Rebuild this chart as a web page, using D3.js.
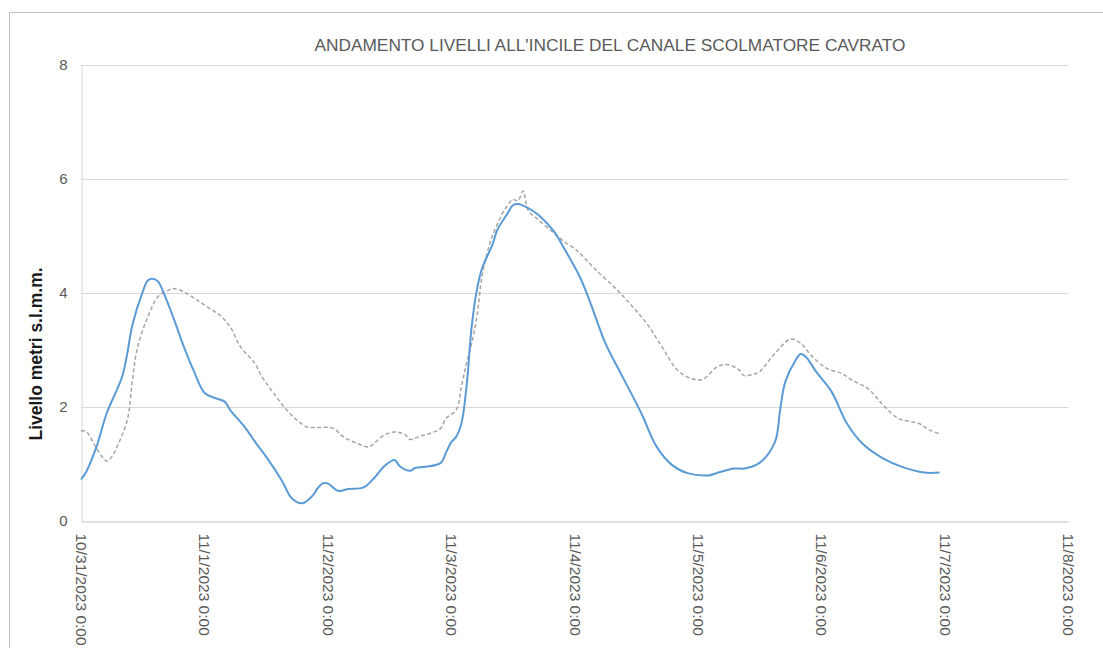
<!DOCTYPE html>
<html>
  <head>
    <meta charset="utf-8">
    <title>Andamento livelli Cavrato</title>
    <script src="https://d3js.org/d3.v7.min.js"></script>
    <style>
      body { margin: 0; background: #fff; }
      #chart { width: 1103px; height: 648px; }
      .tick text { font-family: "Liberation Sans", Arial, sans-serif; fill: #595959; }
    </style>
  </head>
  <body>
    <div id="chart">
      <script>

        const chartTitle = "ANDAMENTO LIVELLI ALL'INCILE DEL CANALE SCOLMATORE CAVRATO";
        const yTitle = "Livello metri s.l.m.m.";
        const startTime = "2023-10-31T00:00:00";
        const endTime = "2023-11-08T00:00:00";
        const yTicks = [0, 2, 4, 6, 8];

        // hours after 10/31/2023 0:00
        const blueHours = [0, 1, 3, 5, 8, 9, 10, 12, 13, 14, 15, 16, 18, 20, 22, 24, 26, 28, 29, 32,
          34, 36, 39, 41, 43, 45, 46, 47, 48, 50, 52, 55, 57, 59, 61, 62, 64, 65, 67, 70,
          71, 72, 73, 74, 75, 76, 77, 78, 80, 81, 83, 84, 85, 87, 89, 92, 94, 97, 99, 102,
          105, 109, 112, 115, 118, 122, 124, 127, 129, 132, 135, 136, 137, 139, 140, 141, 143, 146, 149, 152,
          156, 160, 164, 167];
        const blueLevels = [0.73, 0.86, 1.30, 1.89, 2.53, 2.94, 3.44, 4.02, 4.22, 4.25, 4.20, 4.02, 3.56, 3.06, 2.62, 2.25, 2.16, 2.09, 1.95, 1.63,
          1.37, 1.13, 0.72, 0.40, 0.31, 0.44, 0.57, 0.66, 0.66, 0.53, 0.56, 0.59, 0.75, 0.96, 1.07, 0.96, 0.88, 0.93, 0.95, 1.02,
          1.20, 1.38, 1.48, 1.71, 2.36, 3.41, 4.05, 4.43, 4.84, 5.11, 5.40, 5.54, 5.56, 5.49, 5.37, 5.08, 4.78, 4.29, 3.85, 3.12,
          2.59, 1.89, 1.30, 0.98, 0.84, 0.80, 0.85, 0.92, 0.92, 1.02, 1.39, 1.95, 2.44, 2.82, 2.93, 2.88, 2.62, 2.27, 1.71, 1.36,
          1.10, 0.94, 0.85, 0.85];

        const greyHours = [0, 1, 3, 5, 6, 7, 9, 10, 11, 13, 15, 17, 18, 20, 22, 24, 27, 29, 31, 33,
          34, 35, 38, 40, 42, 44, 46, 49, 51, 54, 56, 57, 59, 61, 63, 64, 66, 68, 70, 71,
          73, 74, 75, 76, 77, 78, 79, 80, 82, 83, 84, 85, 86, 87, 89, 92, 94, 96, 97, 100,
          104, 107, 110, 113, 116, 119, 121, 124, 126, 128, 129, 131, 132, 135, 138, 140, 142, 145, 148, 150,
          153, 156, 159, 163, 165, 167];
        const greyLevels = [1.58, 1.57, 1.28, 1.05, 1.13, 1.30, 1.77, 2.47, 3.05, 3.58, 3.94, 4.05, 4.08, 4.02, 3.91, 3.79, 3.61, 3.41, 3.06, 2.85,
          2.74, 2.56, 2.18, 1.95, 1.77, 1.65, 1.64, 1.63, 1.48, 1.35, 1.30, 1.36, 1.51, 1.56, 1.52, 1.43, 1.49, 1.54, 1.63, 1.80,
          1.95, 2.36, 2.77, 3.12, 3.58, 4.29, 4.70, 4.99, 5.40, 5.54, 5.64, 5.62, 5.79, 5.45, 5.28, 5.05, 4.90, 4.78, 4.70, 4.42,
          4.08, 3.79, 3.47, 3.06, 2.65, 2.49, 2.49, 2.72, 2.74, 2.65, 2.55, 2.58, 2.62, 2.94, 3.19, 3.12, 2.91, 2.68, 2.59, 2.47,
          2.33, 2.04, 1.80, 1.71, 1.60, 1.53];

        const width = 1103;
        const height = 648;
        const margin = {top: 65, right: 35, bottom: 127, left: 81};

        const svg = d3.select("#chart").append("svg")
            .attr("width", width)
            .attr("height", height);

        // outer chart frame
        svg.append("rect")
            .attr("x", 9.5).attr("y", 12.5)
            .attr("width", width + 20).attr("height", height + 20)
            .attr("fill", "none")
            .attr("stroke", "#bfbfbf");

        const t0 = new Date(startTime);
        const toDate = h => new Date(t0.getTime() + h * 3600 * 1000);
        const blueData = blueHours.map((h, i) => ({t: toDate(h), v: blueLevels[i]}));
        const greyData = greyHours.map((h, i) => ({t: toDate(h), v: greyLevels[i]}));

        const x = d3.scaleTime()
            .domain([t0, new Date(endTime)])
            .range([margin.left, width - margin.right]);
        const y = d3.scaleLinear()
            .domain([0, 8])
            .range([height - margin.bottom, margin.top]);

        // gridlines
        svg.append("g")
            .selectAll("line")
            .data(yTicks.slice(1))
            .join("line")
            .attr("x1", margin.left).attr("x2", width - margin.right)
            .attr("y1", d => Math.round(y(d)) + 0.5).attr("y2", d => Math.round(y(d)) + 0.5)
            .attr("stroke", "#d9d9d9");

        const yAxis = svg.append("g")
            .attr("transform", `translate(${margin.left + 0.5},0)`)
            .call(d3.axisLeft(y).tickValues(yTicks).tickSize(0).tickPadding(14));
        yAxis.select(".domain").attr("stroke", "#d9d9d9");
        yAxis.selectAll("text").attr("font-size", 15);

        const xAxis = svg.append("g")
            .attr("transform", `translate(0,${height - margin.bottom + 0.5})`)
            .call(d3.axisBottom(x).ticks(d3.timeDay.every(1)).tickSize(0)
              .tickFormat(d3.timeFormat("%-m/%-d/%Y %-H:%M")));
        xAxis.select(".domain").attr("stroke", "#bfbfbf");
        xAxis.selectAll("text")
            .attr("font-size", 15.5)
            .attr("text-anchor", "start")
            .attr("dy", "0.35em")
            .attr("transform", "translate(0,12) rotate(90)")
            .attr("x", 0).attr("y", 0);

        const line = d3.line()
            .x(d => x(d.t))
            .y(d => y(d.v))
            .curve(d3.curveCatmullRom.alpha(0.5));

        svg.append("path")
            .datum(greyData)
            .attr("d", line)
            .attr("fill", "none")
            .attr("stroke", "#a5a5a5")
            .attr("stroke-width", 1.5)
            .attr("stroke-dasharray", "4 2.5");

        svg.append("path")
            .datum(blueData)
            .attr("d", line)
            .attr("fill", "none")
            .attr("stroke", "#5b9bd5")
            .attr("stroke-width", 2);

        svg.append("text")
            .attr("x", 610).attr("y", 51)
            .attr("text-anchor", "middle")
            .attr("font-family", "Liberation Sans, Arial, sans-serif")
            .attr("font-size", 16.5)
            .attr("fill", "#595959")
            .attr("textLength", 591)
            .attr("lengthAdjust", "spacingAndGlyphs")
            .text(chartTitle);

        svg.append("text")
            .attr("transform", "translate(42,354) rotate(-90)")
            .attr("text-anchor", "middle")
            .attr("font-family", "Liberation Sans, Arial, sans-serif")
            .attr("font-weight", "bold")
            .attr("font-size", 17.5)
            .attr("fill", "#1a1a1a")
            .text(yTitle);

      </script>
    </div>
  </body>
</html>
